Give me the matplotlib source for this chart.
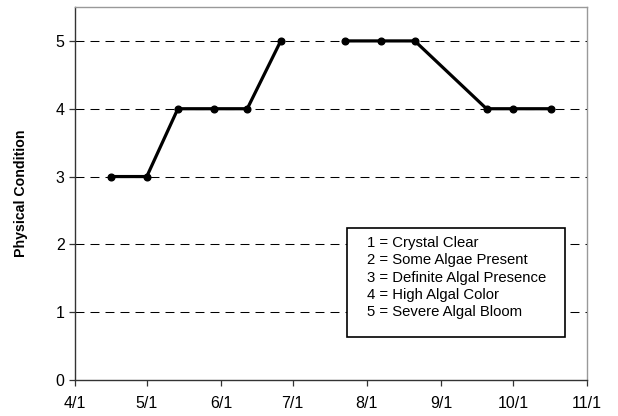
import numpy as np
import pandas as pd
import matplotlib
matplotlib.use("Agg")
import matplotlib.pyplot as plt
from matplotlib.patches import Rectangle

plt.rcParams['font.family'] = ['Liberation Sans', 'DejaVu Sans']

# 데이터
dates = ['2006-04-16', '2006-05-01', '2006-05-14', '2006-05-29', '2006-06-12', '2006-06-26',
         '2006-07-10',
         '2006-07-23', '2006-08-07', '2006-08-21', '2006-09-20', '2006-10-01', '2006-10-17']
condition = [3, 3, 4, 4, 4, 5, np.nan, 5, 5, 5, 4, 4, 4]

tick_dates = ['2006-04-01', '2006-05-01', '2006-06-01', '2006-07-01',
              '2006-08-01', '2006-09-01', '2006-10-01', '2006-11-01']
tick_labels = ['4/1', '5/1', '6/1', '7/1', '8/1', '9/1', '10/1', '11/1']

key_lines = ['1 = Crystal Clear', '2 = Some Algae Present', '3 = Definite Algal Presence',
             '4 = High Algal Color', '5 = Severe Algal Bloom']

x = pd.to_datetime(dates)
xt = pd.to_datetime(tick_dates)

fig = plt.figure(figsize=(6.18, 4.16), dpi=100)
ax = fig.add_axes([75 / 618, 1 - 380 / 416, 512 / 618, 373 / 416])

# 가로 점선 그리드
for yv in [1, 2, 3, 4, 5]:
    ax.axhline(yv, color='black', lw=0.75, ls=(0, (8.6, 5.8)), zorder=1)

ax.plot(x, condition, color='black', lw=2.3, marker='o', ms=4.8, zorder=3)

ax.set_xlim(xt[0], xt[-1])
ax.set_ylim(0, 5.5)
ax.set_xticks(xt)
ax.set_xticklabels(tick_labels)
ax.set_yticks([0, 1, 2, 3, 4, 5])
ax.tick_params(axis='both', labelsize=11.5, length=4.5, width=0.9, color='#333333', direction='out')
ax.tick_params(axis='x', pad=7)
ax.tick_params(axis='y', pad=3)

for side in ['top', 'right']:
    ax.spines[side].set_color('#999999')
    ax.spines[side].set_linewidth(1)
for side in ['left', 'bottom']:
    ax.spines[side].set_color('#333333')
    ax.spines[side].set_linewidth(1)

ax.set_ylabel('Physical Condition', fontsize=10.2, fontweight='bold', labelpad=20)

# 범례 박스
box = Rectangle((0.531, 0.1145), 0.427, 0.2935, transform=ax.transAxes,
                facecolor='white', edgecolor='black', lw=1.2, zorder=4)
ax.add_patch(box)
ax.text(0.570, 0.386, '\n'.join(key_lines), transform=ax.transAxes, fontsize=10.75,
        va='top', ha='left', linespacing=1.3, zorder=5)

plt.savefig('out.png', dpi=100)
